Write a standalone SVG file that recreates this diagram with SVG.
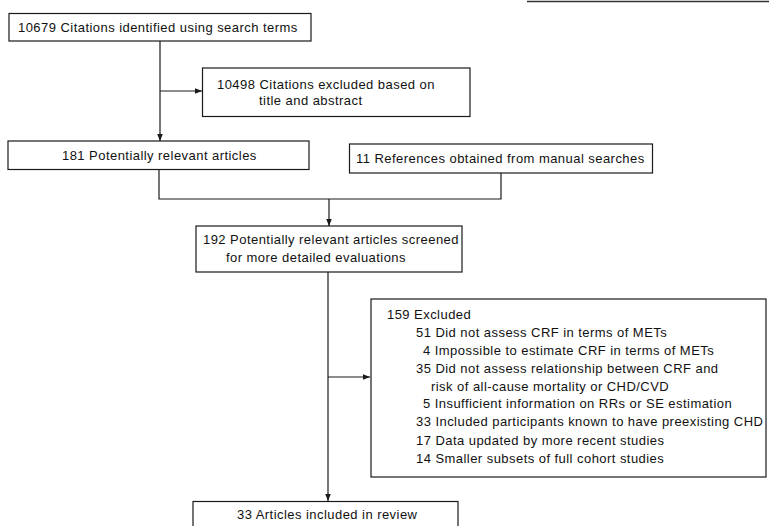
<svg xmlns="http://www.w3.org/2000/svg" width="769" height="526" viewBox="0 0 769 526">
<defs>
<style>
.box{fill:#fff;stroke:#1a1a1a;stroke-width:1.2}
.t{font-family:"Liberation Sans",Arial,Helvetica,sans-serif;font-size:13px;letter-spacing:0.45px;fill:#111}
.c{fill:none;stroke:#1a1a1a;stroke-width:1.2}
</style>
<marker id="ah" viewBox="0 0 10 10" refX="10" refY="5" markerWidth="7" markerHeight="7" markerUnits="userSpaceOnUse" orient="auto">
<path d="M0,1 L10,5 L0,9 Z" fill="#1a1a1a"/>
</marker>
</defs>
<rect width="769" height="526" fill="#fff"/>
<line x1="527" y1="1.5" x2="769" y2="1.5" stroke="#333" stroke-width="1.5"/>
<g id="connectors">
<path class="c" d="M160,41 V141" marker-end="url(#ah)"/>
<path class="c" d="M160,91 H202" marker-end="url(#ah)"/>
<path class="c" d="M159,169 V199 H501 V173"/>
<path class="c" d="M329,199 V226" marker-end="url(#ah)"/>
<path class="c" d="M328,272 V501" marker-end="url(#ah)"/>
<path class="c" d="M328,377 H370" marker-end="url(#ah)"/>
</g>
<g id="n1">
<rect class="box" x="9" y="13.5" width="302" height="27.5"/>
<text class="t" x="18" y="31.5">10679 Citations identified using search terms</text>
</g>
<g id="n2">
<rect class="box" x="202.5" y="68" width="267.5" height="48.5"/>
<text class="t" x="217" y="89">10498 Citations excluded based on</text>
<text class="t" x="259" y="105">title and abstract</text>
</g>
<g id="n3">
<rect class="box" x="8" y="141" width="301" height="28.5"/>
<text class="t" x="62" y="160">181 Potentially relevant articles</text>
</g>
<g id="n4">
<rect class="box" x="349.5" y="144" width="303" height="29"/>
<text class="t" x="356" y="163">11 References obtained from manual searches</text>
</g>
<g id="n5">
<rect class="box" x="196" y="226" width="266" height="46"/>
<text class="t" x="203" y="244">192 Potentially relevant articles screened</text>
<text class="t" x="226" y="261.5">for more detailed evaluations</text>
</g>
<g id="n6">
<rect class="box" x="371" y="299" width="395" height="178"/>
<text class="t" x="387" y="319">159 Excluded</text>
<text class="t" x="416" y="337">51 Did not assess CRF in terms of METs</text>
<text class="t" x="423" y="355">4 Impossible to estimate CRF in terms of METs</text>
<text class="t" x="416" y="373">35 Did not assess relationship between CRF and</text>
<text class="t" x="431" y="390.5">risk of all-cause mortality or CHD/CVD</text>
<text class="t" x="423" y="408">5 Insufficient information on RRs or SE estimation</text>
<text class="t" x="416" y="426">33 Included participants known to have preexisting CHD</text>
<text class="t" x="416" y="444.5">17 Data updated by more recent studies</text>
<text class="t" x="416" y="463">14 Smaller subsets of full cohort studies</text>
</g>
<g id="n7">
<rect class="box" x="193" y="501.5" width="265" height="40"/>
<text class="t" x="237" y="518.5">33 Articles included in review</text>
</g>
</svg>
